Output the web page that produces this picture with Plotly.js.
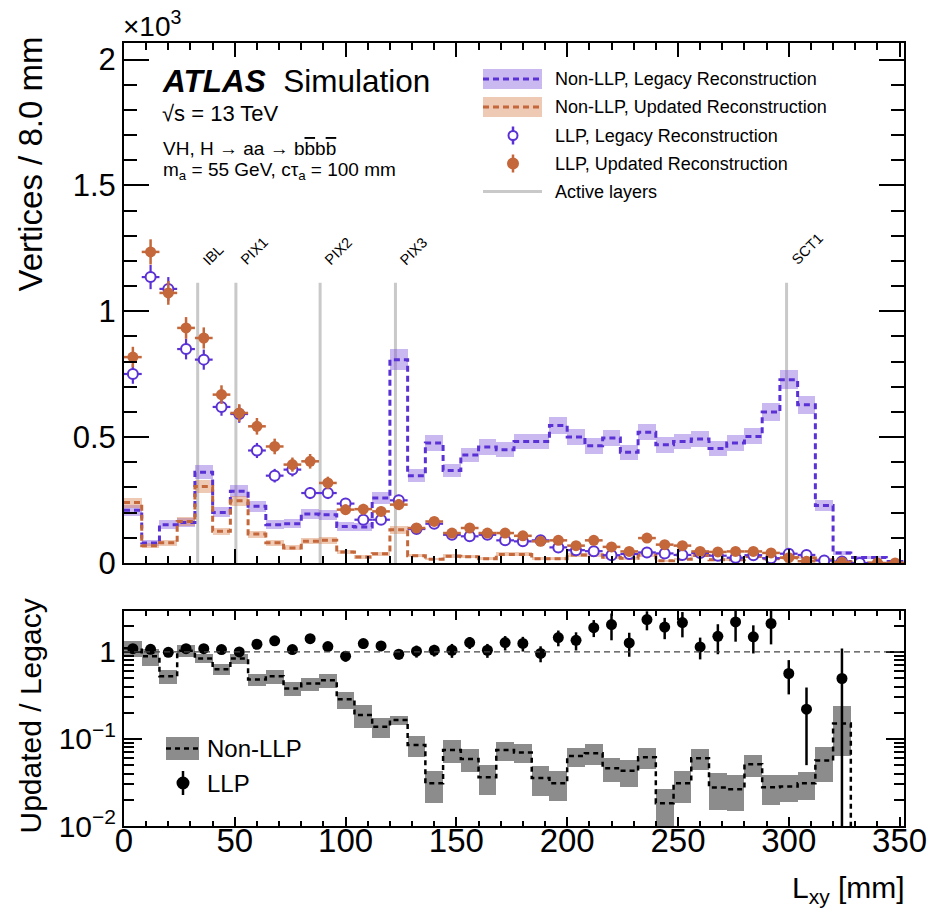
<!DOCTYPE html>
<html>
<head>
<meta charset="utf-8">
<script src="https://cdn.plot.ly/plotly-3.0.1.min.js"></script>
<style>
  html, body { margin: 0; padding: 0; background: #fff; }
  #chart { width: 928px; height: 916px; }
</style>
</head>
<body>
<div id="chart"></div>
<script>
// Transverse displacement bins (8 mm wide), centres in mm
const binWidth = 8;
const binCenters = [4,12,20,28,36,44,52,60,68,76,84,92,100,108,116,124,132,140,148,156,164,172,180,188,196,204,212,220,228,236,244,252,260,268,276,284,292,300,308,316,324,332,340,348];

// Non-LLP vertices (histograms with stat. bands)
const nonLlpLegacy    = [210,79,152,161,361,201,285,225,152,156,195,192,145,143,258,808,347,477,368,429,461,450,483,483,546,501,466,497,440,519,470,483,493,455,477,503,600,728,629,228,40,22,22,6];
const nonLlpLegacyErr = [22,12,18,18,27,20,24,21,17,17,20,20,17,17,23,41,26,31,27,29,30,30,31,31,33,32,31,32,30,32,31,31,31,30,31,32,35,38,36,21,9,7,7,4];
const nonLlpUpdated    = [240,69,80,165,304,126,247,115,80,60,86,90,44,24,37,132,29,15,27,25,17,34,34,17,17,32,32,23,19,32,9,15,30,13,13,26,17,21,20,13,6,0,0,0];
const nonLlpUpdatedErr = [20,11,12,17,24,15,21,14,12,10,12,13,9,7,8,15,7,5,7,7,6,8,8,6,6,8,8,7,6,8,4,5,7,5,5,7,6,6,6,5,3,0,0,0];

// LLP vertices (points with errors)
const llpLegacy    = [751,1136,1089,850,808,620,592,447,347,371,278,278,236,172,172,249,135,156,112,106,112,90,86,90,62,51,47,31,36,42,38,32,40,29,21,31,19,37,32,10,6,0,null,null];
const llpLegacyErr = [39,48,47,41,40,35,35,30,27,27,24,24,22,19,19,22,17,18,15,15,15,14,13,13,11,10,10,8,9,9,9,8,9,8,7,8,6,9,8,4,3,0,0,0];
const llpUpdated    = [818,1236,1073,934,894,669,596,543,463,391,404,318,212,214,205,232,139,165,119,139,119,119,108,86,90,69,90,64,46,99,73,69,46,44,46,46,40,21,7,null,3,null,0,0];
const llpUpdatedErr = [41,50,47,43,42,37,35,33,31,28,29,25,21,21,20,22,17,18,16,17,16,16,15,13,13,12,13,11,9,14,12,12,10,9,10,10,9,7,4,0,2,0,0,0];

// Updated / Legacy ratios
const nonLlpRatio       = [1.1,0.89,0.527,1.03,0.84,0.634,0.84,0.483,0.527,0.38,0.434,0.474,0.285,0.188,0.138,0.165,0.0853,0.031,0.0748,0.059,0.0364,0.0748,0.0697,0.0355,0.031,0.0638,0.0686,0.0461,0.043,0.0617,0.0183,0.031,0.060,0.0277,0.0265,0.0513,0.0278,0.0284,0.031,0.0565,0.151,0,0,0];
const nonLlpRatioRelErr = [0.21,0.22,0.19,0.16,0.12,0.15,0.13,0.15,0.18,0.18,0.17,0.18,0.23,0.29,0.25,0.12,0.28,0.40,0.29,0.29,0.37,0.25,0.25,0.37,0.37,0.25,0.27,0.31,0.35,0.27,0.46,0.40,0.27,0.45,0.44,0.29,0.37,0.34,0.35,0.44,0.58,0,0,0];
const llpRatio    = [1.09,1.07,0.99,1.09,1.09,1.065,1.0,1.225,1.34,1.065,1.42,1.153,0.893,1.248,1.17,0.94,1.02,1.045,1.045,1.28,1.045,1.28,1.25,0.96,1.46,1.36,1.90,2.06,1.27,2.35,1.93,2.17,1.14,1.51,2.21,1.49,2.12,0.565,0.22,null,0.495,null,null,null];
const llpRatioErr = [0.07,0.06,0.06,0.07,0.07,0.08,0.08,0.1,0.11,0.1,0.13,0.12,0.12,0.16,0.15,0.12,0.16,0.16,0.19,0.2,0.19,0.24,0.24,0.2,0.3,0.32,0.42,0.7,0.39,0.58,0.53,0.7,0.32,0.57,0.9,0.53,0.9,0.24,0.17,null,0.6,null,null,null];

// Active detector layers
const layerNames = ['IBL','PIX1','PIX2','PIX3','SCT1'];
const layerRadii = [33.25, 50.5, 88.5, 122.5, 299];
const layerLineTop = 1113;

// ---- styling ----
const FONT = 'Liberation Sans, Arial, Helvetica, sans-serif';
const PURPLE = '#5a31d4';
const PURPLE_BAND = 'rgba(128,88,222,0.42)';
const ORANGE = '#c4673a';
const ORANGE_BAND = 'rgba(218,135,88,0.45)';
const GREY_LAYER = '#c9c9c9';
const GREY_BAND = '#8c8c8c';

const edges = binCenters.map(c => c - binWidth / 2).concat([binCenters[binCenters.length - 1] + binWidth / 2]);
const stepY = v => v.concat([v[v.length - 1]]);

function bandTrace(vals, errs, color, xa, ya) {
  return {
    type: 'bar', x: binCenters, width: binWidth,
    base: vals.map((v, i) => v - errs[i]),
    y: errs.map(e => 2 * e),
    marker: { color: color, line: { width: 0 } },
    xaxis: xa, yaxis: ya, hoverinfo: 'skip'
  };
}

function stepTrace(vals, color, xa, ya) {
  return {
    type: 'scatter', mode: 'lines', x: edges, y: stepY(vals),
    line: { shape: 'hv', color: color, width: 3, dash: '6px,4px' },
    xaxis: xa, yaxis: ya, hoverinfo: 'skip'
  };
}

const ratioDisplay = nonLlpRatio.map(r => r > 0 ? r : 1e-4);

const traces = [
  bandTrace(nonLlpLegacy, nonLlpLegacyErr, PURPLE_BAND, 'x', 'y'),
  bandTrace(nonLlpUpdated, nonLlpUpdatedErr, ORANGE_BAND, 'x', 'y'),
  stepTrace(nonLlpLegacy, PURPLE, 'x', 'y'),
  stepTrace(nonLlpUpdated, ORANGE, 'x', 'y'),
  {
    type: 'scatter', mode: 'markers', x: binCenters, y: llpLegacy,
    marker: { symbol: 'circle', size: 10, color: '#ffffff', line: { color: PURPLE, width: 2 } },
    error_y: { type: 'data', array: llpLegacyErr, color: PURPLE, thickness: 2.2, width: 0 },
    error_x: { type: 'constant', value: binWidth / 2, color: PURPLE, thickness: 2.2, width: 0 },
    xaxis: 'x', yaxis: 'y'
  },
  {
    type: 'scatter', mode: 'markers', x: binCenters, y: llpUpdated,
    marker: { symbol: 'circle', size: 11, color: ORANGE },
    error_y: { type: 'data', array: llpUpdatedErr, color: ORANGE, thickness: 2.5, width: 0 },
    error_x: { type: 'constant', value: binWidth / 2, color: ORANGE, thickness: 2.5, width: 0 },
    xaxis: 'x', yaxis: 'y'
  },
  // ratio panel
  {
    type: 'bar', x: binCenters, width: binWidth,
    base: nonLlpRatio.map((r, i) => r > 0 ? r * (1 - nonLlpRatioRelErr[i]) : null),
    y: nonLlpRatio.map((r, i) => r > 0 ? 2 * r * nonLlpRatioRelErr[i] : null),
    marker: { color: GREY_BAND, line: { width: 0 } },
    xaxis: 'x2', yaxis: 'y2', hoverinfo: 'skip'
  },
  {
    type: 'scatter', mode: 'lines', x: edges, y: stepY(ratioDisplay),
    line: { shape: 'hv', color: '#000', width: 2.5, dash: '5px,4px' },
    xaxis: 'x2', yaxis: 'y2', hoverinfo: 'skip'
  },
  {
    type: 'scatter', mode: 'markers', x: binCenters, y: llpRatio,
    marker: { symbol: 'circle', size: 11, color: '#000' },
    error_y: { type: 'data', array: llpRatioErr, color: '#000', thickness: 2.5, width: 0 },
    xaxis: 'x2', yaxis: 'y2'
  }
];

// plot-area geometry in pixels, used for paper-coordinate decorations
const W = 928, H = 916, ML = 124, MR = 24, MT = 43, MB = 90;
const PW = W - ML - MR, PH = H - MT - MB;
const px = x => (x - ML) / PW;
const py = y => (H - MB - y) / PH;

const shapes = [];
const annotations = [];

// layer markers
layerRadii.forEach((r, i) => {
  shapes.push({ type: 'line', xref: 'x', yref: 'y', x0: r, x1: r, y0: 0, y1: layerLineTop,
    line: { color: GREY_LAYER, width: 3 }, layer: 'below' });
  annotations.push({ xref: 'x', yref: 'y', x: r, y: layerLineTop, xanchor: 'left', yanchor: 'bottom',
    xshift: -1, yshift: 12, textangle: -45, showarrow: false, text: layerNames[i],
    font: { family: FONT, size: 14.5, color: '#000' } });
});

// unity line on ratio panel
shapes.push({ type: 'line', xref: 'x2', yref: 'y2', x0: 0, x1: 352, y0: 1, y1: 1,
  line: { color: '#444', width: 1.2, dash: '6px,4px' } });

// upper legend
const legX0 = px(483), legX1 = px(542);
function legendBand(yc, band, line) {
  shapes.push({ type: 'rect', xref: 'paper', yref: 'paper', x0: legX0, x1: legX1, y0: py(yc + 10), y1: py(yc - 10),
    fillcolor: band, line: { width: 0 } });
  shapes.push({ type: 'line', xref: 'paper', yref: 'paper', x0: legX0, x1: legX1, y0: py(yc), y1: py(yc),
    line: { color: line, width: 3, dash: '6px,4px' } });
}
function legendPoint(yc, fill, edge, r, half, cx) {
  shapes.push({ type: 'line', xref: 'paper', yref: 'paper', x0: px(cx), x1: px(cx), y0: py(yc + half), y1: py(yc - half),
    line: { color: edge, width: 2.5 } });
  shapes.push({ type: 'circle', xref: 'paper', yref: 'paper', x0: px(cx - r), x1: px(cx + r), y0: py(yc + r), y1: py(yc - r),
    fillcolor: fill, line: { color: edge, width: 2 } });
}
legendBand(79, PURPLE_BAND, PURPLE);
legendBand(107, ORANGE_BAND, ORANGE);
legendPoint(135.5, '#ffffff', PURPLE, 4.5, 9, 513);
legendPoint(163.5, ORANGE, ORANGE, 5, 9, 513);
shapes.push({ type: 'line', xref: 'paper', yref: 'paper', x0: legX0, x1: legX1, y0: py(191.5), y1: py(191.5),
  line: { color: GREY_LAYER, width: 3 } });
const legLabels = ['Non-LLP, Legacy Reconstruction', 'Non-LLP, Updated Reconstruction',
  'LLP, Legacy Reconstruction', 'LLP, Updated Reconstruction', 'Active layers'];
[79, 107, 135.5, 163.5, 191.5].forEach((yc, i) => {
  annotations.push({ xref: 'paper', yref: 'paper', x: px(553), y: py(yc), xanchor: 'left', yanchor: 'middle',
    showarrow: false, text: legLabels[i], font: { family: FONT, size: 18, color: '#000' } });
});

// ratio legend
shapes.push({ type: 'rect', xref: 'paper', yref: 'paper', x0: px(166), x1: px(199), y0: py(760), y1: py(737),
  fillcolor: GREY_BAND, line: { width: 0 } });
shapes.push({ type: 'line', xref: 'paper', yref: 'paper', x0: px(166), x1: px(199), y0: py(748.5), y1: py(748.5),
  line: { color: '#000', width: 2.5, dash: '5px,4px' } });
legendPoint(783, '#000', '#000', 5.5, 12, 183);
annotations.push({ xref: 'paper', yref: 'paper', x: px(205), y: py(748.5), xanchor: 'left', yanchor: 'middle',
  showarrow: false, text: 'Non-LLP', font: { family: FONT, size: 24, color: '#000' } });
annotations.push({ xref: 'paper', yref: 'paper', x: px(205), y: py(783), xanchor: 'left', yanchor: 'middle',
  showarrow: false, text: 'LLP', font: { family: FONT, size: 24, color: '#000' } });

// labels
const txt = (x, y, text, size, xa, ya, extra) => Object.assign({
  xref: 'paper', yref: 'paper', x: x, y: y, xanchor: xa, yanchor: ya, showarrow: false, text: text,
  font: { family: FONT, size: size, color: '#000' } }, extra || {});
annotations.push(txt(px(121), py(44), '×10<sup>3</sup>', 28, 'left', 'bottom'));
annotations.push(txt(px(160), py(81), '<b><i>ATLAS</i></b>  Simulation', 31.5, 'left', 'middle'));
annotations.push(txt(px(160), py(114), '√s = 13 TeV', 22, 'left', 'middle'));
annotations.push(txt(px(161), py(148),
  'VH, H → aa → b<span style="text-decoration:overline">b</span>b<span style="text-decoration:overline">b</span>', 19, 'left', 'middle'));
annotations.push(txt(px(161), py(171), 'm<sub>a</sub> = 55 GeV, cτ<sub>a</sub> = 100 mm', 19, 'left', 'middle'));
annotations.push(txt(px(30), py(35), 'Vertices / 8.0 mm', 33, 'center', 'top', { textangle: -90 }));
annotations.push(txt(px(30), py(597), 'Updated / Legacy', 30, 'center', 'top', { textangle: -90 }));
annotations.push(txt(px(907), py(889), 'L<sub>xy</sub> [mm]', 30, 'right', 'middle'));

// minor ticks of the logarithmic ratio axis
const logMinor = [];
[0.01, 0.1, 1].forEach(dec => { for (let k = 2; k <= 9; k++) logMinor.push(k * dec); });

const axisCommon = { showline: true, linewidth: 2, linecolor: '#000', mirror: 'ticks', showgrid: false,
  zeroline: false, ticks: 'inside', tickcolor: '#000', tickwidth: 2 };

const layout = {
  width: W, height: H,
  margin: { l: ML, r: MR, t: MT, b: MB },
  paper_bgcolor: '#fff', plot_bgcolor: '#fff',
  showlegend: false, barmode: 'overlay', bargap: 0,
  font: { family: FONT, color: '#000' },
  xaxis: Object.assign({}, axisCommon, {
    domain: [0, 1], anchor: 'y', range: [0, 352], showticklabels: false,
    tickmode: 'linear', tick0: 0, dtick: 50, ticklen: 14,
    minor: { ticks: 'inside', tickmode: 'linear', tick0: 0, dtick: 10, ticklen: 7, tickwidth: 2, tickcolor: '#000', showgrid: false }
  }),
  yaxis: Object.assign({}, axisCommon, {
    domain: [py(563), 1], anchor: 'x', range: [0, 2066],
    tickmode: 'array', tickvals: [0, 500, 1000, 1500, 2000], ticktext: ['0', '0.5', '1', '1.5', '2'],
    ticklen: 25, tickfont: { family: FONT, size: 31 },
    minor: { ticks: 'inside', tickmode: 'linear', tick0: 0, dtick: 100, ticklen: 13, tickwidth: 2, tickcolor: '#000', showgrid: false }
  }),
  xaxis2: Object.assign({}, axisCommon, {
    domain: [0, 1], anchor: 'y2', range: [0, 352],
    tickmode: 'linear', tick0: 0, dtick: 50, ticklen: 9, tickfont: { family: FONT, size: 33 },
    ticklabelstandoff: -16,
    minor: { ticks: 'inside', tickmode: 'linear', tick0: 0, dtick: 10, ticklen: 5, tickwidth: 2, tickcolor: '#000', showgrid: false }
  }),
  yaxis2: Object.assign({}, axisCommon, {
    domain: [0, py(611)], anchor: 'x2', type: 'log', range: [-2, 0.47],
    tickmode: 'array', tickvals: [0.01, 0.1, 1], ticktext: ['10<sup>−2</sup>', '10<sup>−1</sup>', '1'],
    ticklen: 18, tickfont: { family: FONT, size: 30 },
    minor: { ticks: 'inside', tickmode: 'array', tickvals: logMinor, ticklen: 10, tickwidth: 2, tickcolor: '#000', showgrid: false }
  }),
  shapes: shapes,
  annotations: annotations
};

Plotly.newPlot('chart', traces, layout, { staticPlot: true, displayModeBar: false });
</script>
</body>
</html>
